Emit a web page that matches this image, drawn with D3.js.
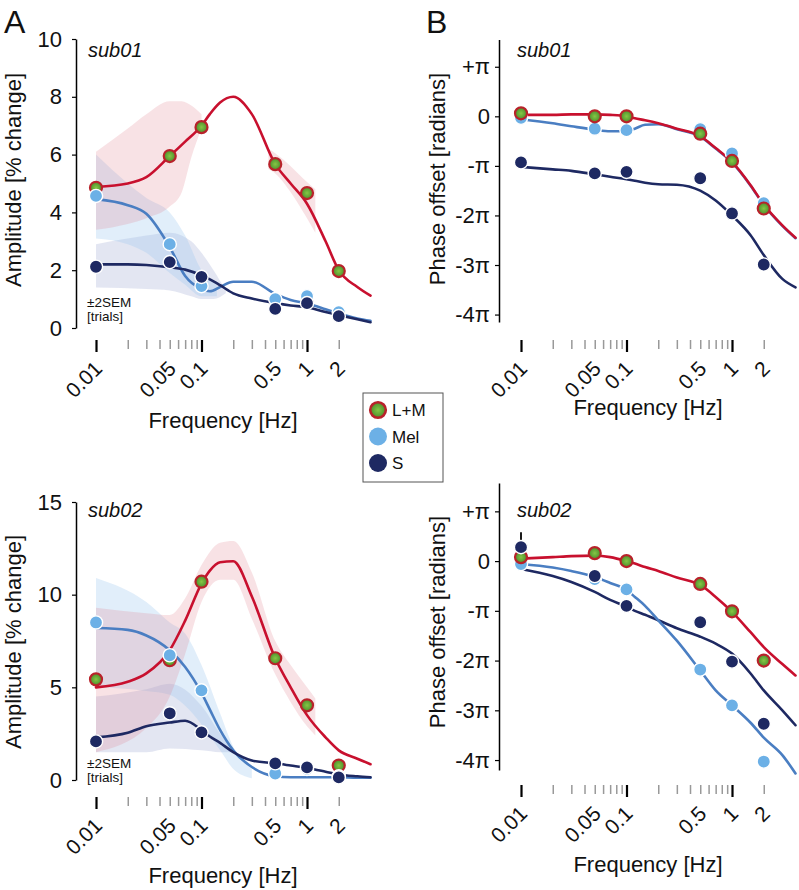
<!DOCTYPE html>
<html><head><meta charset="utf-8">
<script src="https://cdn.jsdelivr.net/npm/d3@7"></script>
<style>
body{margin:0;background:#fff}
svg{display:block}
text{font-family:"Liberation Sans", Arial, Helvetica, sans-serif; fill:#111}
</style>
</head><body>
<svg id="c" width="799" height="890"></svg>
<script>
// ---------------- DATA ----------------
const freqs = [0.01, 0.05, 0.1, 0.5, 1, 2];
const tickFreqs = [0.01,0.02,0.03,0.04,0.05,0.06,0.07,0.08,0.09,0.1,0.2,0.3,0.4,0.5,0.6,0.7,0.8,0.9,1,2];
const majorTicks = [0.01, 0.1, 1];
const tickLabels = [0.01, 0.05, 0.1, 0.5, 1, 2];
const seriesNames = ["L+M", "Mel", "S"];

// sub01 amplitude (% change)
const s1AmpLM  = [4.85, 5.95, 6.95, 5.67, 4.67, 1.97];
const s1AmpMel = [4.57, 2.9, 1.45, 1.0, 1.1, 0.55];
const s1AmpS   = [2.12, 2.28, 1.77, 0.66, 0.86, 0.41];
// sub02 amplitude
const s2AmpLM  = [5.43, 6.46, 10.7, 6.57, 4.03, 0.78];
const s2AmpMel = [8.5, 6.73, 4.84, 0.35, 0.6, 0.2];
const s2AmpS   = [2.08, 3.6, 2.57, 0.9, 0.68, 0.14];
// sub01 phase (units of pi)
const s1PhLM  = [0.06, 0.0, 0.0, -0.35, -0.9, -1.86];
const s1PhMel = [-0.03, -0.25, -0.28, -0.26, -0.75, -1.75];
const s1PhS   = [-0.93, -1.15, -1.12, -1.25, -1.96, -2.99];
// sub02 phase (units of pi)
const s2PhLM  = [0.08, 0.16, 0.0, -0.46, -1.01, -2.0];
const s2PhMel = [-0.06, -0.36, -0.57, -2.18, -2.9, -4.03];
const s2PhS   = [0.28, -0.3, -0.9, -1.23, -2.02, -3.27];
const s2PhSErrF = [0.01];
const s2PhSErrLo = [-0.02];
const s2PhSErrHi = [0.58];

// model fits, sampled at fitF
const fitF = [0.01,0.02,0.03,0.05,0.07,0.1,0.12,0.15,0.2,0.3,0.5,0.7,1,1.5,2,3,4];
const s1FitAmpLM  = [4.88,5.0,5.22,5.95,6.45,7.0,7.4,7.8,8.0,7.4,5.67,5.0,4.3,3.0,2.0,1.42,1.12];
const s1FitAmpMel = [4.46,4.25,3.95,2.8,1.8,1.35,1.27,1.42,1.6,1.6,1.18,0.97,0.85,0.65,0.5,0.33,0.25];
const s1FitAmpS   = [2.2,2.2,2.18,2.1,2.02,1.82,1.68,1.48,1.2,1.02,0.86,0.78,0.72,0.55,0.45,0.3,0.2];
const s2FitAmpLM  = [5.0,5.3,5.75,7.0,8.6,10.6,11.3,11.75,11.8,9.9,6.57,5.0,3.5,2.3,1.6,1.15,0.85];
const s2FitAmpMel = [8.2,8.1,7.8,7.0,6.1,4.7,3.8,2.7,1.6,0.7,0.2,0.15,0.15,0.15,0.15,0.12,0.12];
const s2FitAmpS   = [2.3,2.55,2.9,3.1,3.2,2.7,2.35,2.0,1.5,1.05,0.9,0.78,0.65,0.45,0.3,0.2,0.15];
const s1FitPhLM  = [0.03,0.03,0.04,0.04,0.03,0.0,-0.04,-0.08,-0.14,-0.25,-0.4,-0.64,-0.92,-1.39,-1.78,-2.2,-2.45];
const s1FitPhMel = [-0.06,-0.14,-0.2,-0.27,-0.3,-0.3,-0.25,-0.17,-0.16,-0.26,-0.41,-0.65,-0.93,-1.4,-1.79,-2.21,-2.46];
const s1FitPhS   = [-1.02,-1.07,-1.1,-1.17,-1.22,-1.27,-1.3,-1.34,-1.37,-1.38,-1.5,-1.7,-2.0,-2.4,-2.8,-3.28,-3.45];
const s2FitPhLM  = [0.05,0.08,0.1,0.11,0.08,0.0,-0.05,-0.12,-0.2,-0.33,-0.48,-0.72,-1.02,-1.43,-1.73,-2.07,-2.3];
const s2FitPhMel = [-0.06,-0.13,-0.2,-0.32,-0.44,-0.58,-0.72,-0.9,-1.19,-1.6,-2.2,-2.6,-2.9,-3.25,-3.55,-3.9,-4.27];
const s2FitPhS   = [-0.16,-0.3,-0.42,-0.62,-0.78,-0.92,-1.0,-1.08,-1.19,-1.35,-1.52,-1.66,-1.86,-2.26,-2.6,-3.0,-3.3];

// ±2SEM bands (amplitude)
const s1BandLMF  = [0.01,0.02,0.03,0.05,0.065,0.08,0.1];
const s1BandLMLo = [3.4,3.6,3.8,4.2,4.7,5.9,6.9];
const s1BandLMHi = [6.1,6.9,7.4,7.85,7.85,7.7,7.4];
const s1BandLM2F  = [0.43,0.5,0.7,1,1.2];
const s1BandLM2Lo = [5.5,5.35,4.7,3.8,3.3];
const s1BandLM2Hi = [6.2,6.05,5.6,5.05,4.8];
const s1BandMelF  = [0.01,0.02,0.03,0.05,0.07,0.1,0.14];
const s1BandMelLo = [3.1,2.9,2.6,1.9,1.5,1.1,1.1];
const s1BandMelHi = [6.0,5.0,4.5,4.0,3.2,2.0,1.5];
const s1BandSF  = [0.01,0.03,0.05,0.08,0.1,0.13,0.17];
const s1BandSLo = [1.4,1.35,1.3,1.1,1.0,1.0,1.2];
const s1BandSHi = [2.9,3.2,3.3,3.0,2.6,2.0,1.3];
const s2BandLMF  = [0.01,0.03,0.05,0.07,0.1,0.15,0.2,0.3,0.5,0.7,1,1.2];
const s2BandLMLo = [1.5,2.8,4.5,6.8,9.6,10.8,10.8,8.7,5.7,4.2,2.9,2.4];
const s2BandLMHi = [9.3,9.0,8.9,9.8,11.6,12.8,12.9,11.2,7.5,6.2,5.0,4.4];
const s2BandMelF  = [0.01,0.03,0.05,0.07,0.1,0.15,0.2,0.3];
const s2BandMelLo = [5.0,4.8,4.6,4.0,3.0,1.6,0.6,0.1];
const s2BandMelHi = [10.9,9.6,8.5,7.9,6.2,3.6,1.8,0.6];
const s2BandSF  = [0.01,0.03,0.05,0.1,0.15,0.2];
const s2BandSLo = [1.5,1.5,1.7,1.6,1.5,1.5];
const s2BandSHi = [4.5,4.9,5.2,4.0,2.5,1.6];

const ampTicks = [[0,2,4,6,8,10],[0,5,10,15]];
const phaseTicks = [1,0,-1,-2,-3,-4];
const phaseTickLabels = ["+π","0","-π","-2π","-3π","-4π"];

// ---------------- STYLE ----------------
const C = {lmLine:"#c8102e", lmStroke:"#b8222a", melLine:"#4a7ec2", mel:"#6cb0e6", s:"#1e2962",
           lmBand:"#e07a88", melBand:"#9cc8f0", sBand:"#5a68b0"};
const svg = d3.select("#c");
const defs = svg.append("defs");
const g0 = defs.append("radialGradient").attr("id","lmg");
g0.append("stop").attr("offset","0%").attr("stop-color","#86c645");
g0.append("stop").attr("offset","100%").attr("stop-color","#4b8e2c");

const zip = (f, v) => f.map((d,i)=>({f:d, v:v[i]}));
const zipB = (f, lo, hi) => f.map((d,i)=>({f:d, lo:lo[i], hi:hi[i]}));

function panel(cfg){
  const g = svg.append("g");
  const x = d3.scaleLog().domain([0.01,4]).range([cfg.x0, cfg.x0 + 105.5*Math.log10(400)]);
  const y = d3.scaleLinear().domain(cfg.yDom).range(cfg.yRange);

  // bands
  (cfg.bands||[]).forEach(b=>{
    const area = d3.area().x(d=>x(d.f)).y0(d=>y(d.lo)).y1(d=>y(d.hi)).curve(d3.curveMonotoneX);
    g.append("path").attr("d", area(b.data)).attr("fill", b.color).attr("fill-opacity", b.op).attr("stroke","none");
  });

  // y axis
  const ax = d3.axisLeft(y).tickValues(cfg.yTicks).tickSizeInner(4).tickSizeOuter(0).tickPadding(cfg.pad)
     .tickFormat(cfg.yFmt);
  const ga = g.append("g").attr("transform",`translate(${cfg.axX},0)`).call(ax);
  ga.select(".domain").attr("stroke","#000").attr("stroke-width",1.5);
  ga.selectAll(".tick line").attr("stroke","#000").attr("stroke-width",1.2);
  ga.selectAll(".tick text").attr("font-size",22).attr("fill","#111")
    .style("font-family",'"Liberation Sans", Arial, sans-serif');

  // x axis
  const xa = d3.axisBottom(x).tickValues(tickFreqs).tickSizeInner(12).tickSizeOuter(0).tickPadding(0)
     .tickFormat(d => tickLabels.includes(d) ? String(d) : "");
  const gx = g.append("g").attr("transform",`translate(0,${cfg.tickTop})`).call(xa);
  gx.select(".domain").remove();
  gx.selectAll(".tick line")
    .attr("stroke", d => majorTicks.includes(d) ? "#000" : "#999")
    .attr("stroke-width", d => majorTicks.includes(d) ? 2.2 : 1.5)
    .attr("y2", d => majorTicks.includes(d) ? 12 : 9);
  gx.selectAll(".tick text").attr("font-size",21).attr("fill","#111")
    .style("font-family",'"Liberation Sans", Arial, sans-serif')
    .attr("text-anchor","end").attr("x",0).attr("y",0).attr("dy",0)
    .attr("transform","translate(7,30) rotate(-45)");

  // labels
  g.append("text").attr("x", cfg.x0+127).attr("y", cfg.xLabY).attr("text-anchor","middle")
    .attr("font-size",22).text("Frequency [Hz]");
  g.append("text").attr("transform",`translate(${cfg.yLabX},${cfg.yLabCY}) rotate(-90)`)
    .attr("text-anchor","middle").attr("font-size",22).text(cfg.yLab);
  g.append("text").attr("x", cfg.subX).attr("y", cfg.subY).attr("font-size",20)
    .attr("font-style","italic").text(cfg.sub);
  if (cfg.sem){
    g.append("text").attr("x", cfg.x0-9).attr("y", cfg.sem).attr("font-size",13.5).text("±2SEM");
    g.append("text").attr("x", cfg.x0-9).attr("y", cfg.sem+14).attr("font-size",13.5).text("[trials]");
  }

  // error bars
  (cfg.err||[]).forEach(e=>{
    g.append("line").attr("x1",x(e.f)).attr("x2",x(e.f)).attr("y1",y(e.lo)).attr("y2",y(e.hi))
      .attr("stroke","#000").attr("stroke-width",1.8);
  });

  // fit lines
  const line = d3.line().x(d=>x(d.f)).y(d=>y(d.v)).curve(d3.curveMonotoneX);
  cfg.lines.forEach(l=>{
    g.append("path").attr("d", line(l.data)).attr("fill","none").attr("stroke", l.color)
      .attr("stroke-width", 2.6).attr("stroke-linecap","round");
  });

  // points
  cfg.points.forEach(p=>{
    g.append("g").selectAll("circle").data(p.data).join("circle")
      .attr("cx", d=>x(d.f)).attr("cy", d=>y(d.v)).attr("r", p.lm ? 6 : 6.6)
      .attr("fill", p.fill).attr("stroke", p.stroke).attr("stroke-width", p.lm ? 2.2 : 1.4);
  });
}

const PLM  = v => ({data: zip(freqs, v), fill:"url(#lmg)", stroke:C.lmStroke, lm:true});
const PMel = v => ({data: zip(freqs, v), fill:C.mel, stroke:"#fff"});
const PS   = v => ({data: zip(freqs, v), fill:C.s, stroke:"#fff"});
const fmtPhase = d => phaseTickLabels[phaseTicks.indexOf(d)];

// A top
panel({x0:96, axX:76, yDom:[0,10], yRange:[328,39], yTicks:ampTicks[0], yFmt:d3.format("d"), pad:10,
  tickTop:340, xLabY:428, yLabX:21, yLabCY:180, yLab:"Amplitude [% change]", sub:"sub01", subX:88, subY:57, sem:307,
  bands:[
    {data:zipB(s1BandSF,s1BandSLo,s1BandSHi), color:C.sBand, op:0.17},
    {data:zipB(s1BandMelF,s1BandMelLo,s1BandMelHi), color:C.melBand, op:0.3},
    {data:zipB(s1BandLMF,s1BandLMLo,s1BandLMHi), color:C.lmBand, op:0.22},
    {data:zipB(s1BandLM2F,s1BandLM2Lo,s1BandLM2Hi), color:C.lmBand, op:0.22}],
  lines:[{data:zip(fitF,s1FitAmpMel), color:C.melLine},{data:zip(fitF,s1FitAmpS), color:C.s},{data:zip(fitF,s1FitAmpLM), color:C.lmLine}],
  points:[PLM(s1AmpLM), PMel(s1AmpMel), PS(s1AmpS)]});

// A bottom
panel({x0:96, axX:76, yDom:[0,15], yRange:[780,502], yTicks:ampTicks[1], yFmt:d3.format("d"), pad:10,
  tickTop:797, xLabY:883, yLabX:21, yLabCY:642, yLab:"Amplitude [% change]", sub:"sub02", subX:88, subY:517, sem:768,
  bands:[
    {data:zipB(s2BandSF,s2BandSLo,s2BandSHi), color:C.sBand, op:0.17},
    {data:zipB(s2BandMelF,s2BandMelLo,s2BandMelHi), color:C.melBand, op:0.3},
    {data:zipB(s2BandLMF,s2BandLMLo,s2BandLMHi), color:C.lmBand, op:0.22}],
  lines:[{data:zip(fitF,s2FitAmpMel), color:C.melLine},{data:zip(fitF,s2FitAmpS), color:C.s},{data:zip(fitF,s2FitAmpLM), color:C.lmLine}],
  points:[PLM(s2AmpLM), PMel(s2AmpMel), PS(s2AmpS)]});

// B top
panel({x0:521, axX:499, yDom:[-4.15,1.55], yRange:[322,39.5], yTicks:phaseTicks, yFmt:fmtPhase, pad:5,
  tickTop:340, xLabY:415, yLabX:445, yLabCY:179, yLab:"Phase offset [radians]", sub:"sub01", subX:517, subY:57,
  lines:[{data:zip(fitF,s1FitPhS), color:C.s},{data:zip(fitF,s1FitPhMel), color:C.melLine},{data:zip(fitF,s1FitPhLM), color:C.lmLine}],
  points:[PMel(s1PhMel), PLM(s1PhLM), PS(s1PhS)]});

// B bottom
panel({x0:521, axX:499, yDom:[-4.2,1.57], yRange:[770,483], yTicks:phaseTicks, yFmt:fmtPhase, pad:5,
  tickTop:785, xLabY:872, yLabX:445, yLabCY:622, yLab:"Phase offset [radians]", sub:"sub02", subX:517, subY:517,
  err: s2PhSErrF.map((f,i)=>({f, lo:s2PhSErrLo[i], hi:s2PhSErrHi[i]})),
  lines:[{data:zip(fitF,s2FitPhS), color:C.s},{data:zip(fitF,s2FitPhMel), color:C.melLine},{data:zip(fitF,s2FitPhLM), color:C.lmLine}],
  points:[PMel(s2PhMel), PLM(s2PhLM), PS(s2PhS)]});

// panel letters
svg.append("text").attr("x",4).attr("y",33).attr("font-size",32).text("A");
svg.append("text").attr("x",426).attr("y",33).attr("font-size",32).text("B");

// legend
const lg = svg.append("g");
lg.append("rect").attr("x",363).attr("y",393).attr("width",80).attr("height",89)
  .attr("fill","#fff").attr("stroke","#555").attr("stroke-width",1);
const legStyle = [
  {fill:"url(#lmg)", stroke:C.lmStroke, sw:2.6, r:7.8},
  {fill:C.mel, stroke:"none", sw:0, r:9},
  {fill:C.s, stroke:"none", sw:0, r:9}];
seriesNames.forEach((n,i)=>{
  const cy = 410 + i*26.5;
  lg.append("circle").attr("cx",378).attr("cy",cy).attr("r",legStyle[i].r)
    .attr("fill",legStyle[i].fill).attr("stroke",legStyle[i].stroke).attr("stroke-width",legStyle[i].sw);
  lg.append("text").attr("x",392).attr("y",cy).attr("dy","0.36em").attr("font-size",17).text(n);
});
</script>
</body></html>
